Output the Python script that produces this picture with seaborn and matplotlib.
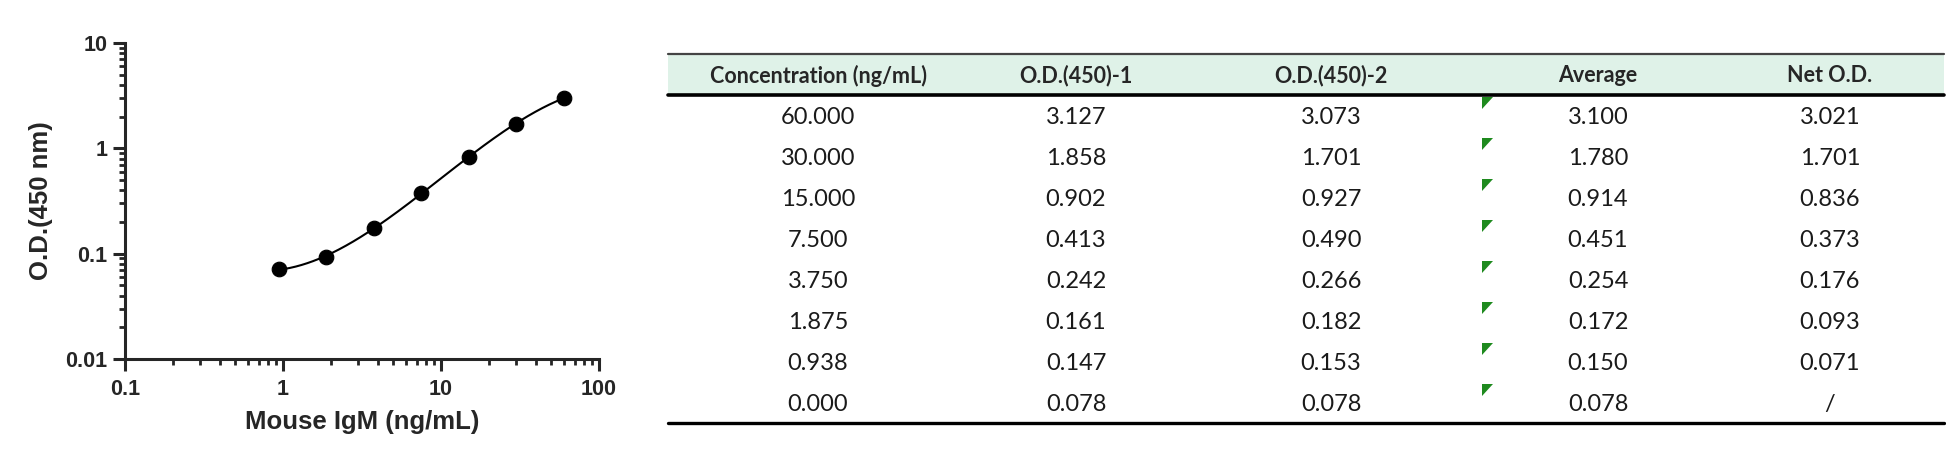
import numpy as np
import pandas as pd
import seaborn as sns
import matplotlib
matplotlib.use("Agg")
import matplotlib.pyplot as plt
from matplotlib.ticker import LogLocator, FuncFormatter, NullFormatter

# standard curve data (Net O.D. vs concentration)
conc = [60.0, 30.0, 15.0, 7.5, 3.75, 1.875, 0.938, 0.0]
od1 = [3.127, 1.858, 0.902, 0.413, 0.242, 0.161, 0.147, 0.078]
od2 = [3.073, 1.701, 0.927, 0.490, 0.266, 0.182, 0.153, 0.078]
avg = [3.100, 1.780, 0.914, 0.451, 0.254, 0.172, 0.150, 0.078]
net_od = [3.021, 1.701, 0.836, 0.373, 0.176, 0.093, 0.071, None]

headers = ["Concentration (ng/mL)", "O.D.(450)-1", "O.D.(450)-2", "Average", "Net O.D."]
x_label = "Mouse IgM (ng/mL)"
y_label = "O.D.(450 nm)"

sns.set_style("ticks")
plt.rcParams['font.family'] = ['Liberation Sans', 'DejaVu Sans']

W, H = 1946, 467
fig = plt.figure(figsize=(W / 100, H / 100), dpi=100)

# ---- curve plot ----
ax = fig.add_axes([125 / W, 1 - 359 / H, (599 - 125) / W, (359 - 43) / H])

df = pd.DataFrame({"conc": conc[:-1], "od": net_od[:-1]})

# smooth fit in log-log space
lx = np.log10(df["conc"].values)
ly = np.log10(df["od"].values.astype(float))
coef = np.polyfit(lx, ly, 3)
xs = np.linspace(lx.min(), lx.max(), 200)
fit = pd.DataFrame({"conc": 10 ** xs, "od": 10 ** np.polyval(coef, xs)})

sns.lineplot(data=fit, x="conc", y="od", ax=ax, color="black", lw=1.5, estimator=None)
sns.scatterplot(data=df, x="conc", y="od", ax=ax, color="black", s=110, edgecolor="black", zorder=3)

ax.set_xscale("log")
ax.set_yscale("log")
ax.set_xlim(0.1, 100)
ax.set_ylim(0.01, 10)
sns.despine(ax=ax)
for s in ["left", "bottom"]:
    ax.spines[s].set_linewidth(2.2)

fmt = FuncFormatter(lambda v, p: "%g" % v)
for a in (ax.xaxis, ax.yaxis):
    a.set_major_locator(LogLocator(base=10))
    a.set_minor_locator(LogLocator(base=10, subs=np.arange(2, 10)))
    a.set_major_formatter(fmt)
    a.set_minor_formatter(NullFormatter())
ax.tick_params(which="major", length=8.5, width=2.2, labelsize=15.5, pad=4)
ax.tick_params(which="minor", length=4.5, width=2.0)
for lab in ax.get_xticklabels() + ax.get_yticklabels():
    lab.set_fontweight("bold")
ax.tick_params(axis="x", which="major", pad=6)

ax.set_xlabel(x_label, fontsize=18.5, fontweight="bold", labelpad=7)
ax.set_ylabel(y_label, fontsize=18.5, fontweight="bold", labelpad=9)

# ---- table ----
tx = fig.add_axes([0, 0, 1, 1])
tx.set_xlim(0, W)
tx.set_ylim(H, 0)
tx.axis("off")

left, right = 668, 1944
top, head_bot, row_h = 54, 95, 41
col_x = [818, 1076, 1331, 1598, 1830]

tx.fill_between([left, right], top, head_bot, color="#dff2e8", lw=0)
tx.plot([left, right], [top, top], color="#444444", lw=1.6)
tx.plot([left, right], [head_bot, head_bot], color="black", lw=2.6)
n_rows = len(conc)
bottom = head_bot + n_rows * row_h
tx.plot([left, right], [bottom, bottom], color="black", lw=2.4)

for cx, h in zip(col_x, headers):
    tx.text(cx, (top + head_bot) / 2 + 1, h, ha="center", va="center",
            fontsize=15.5, fontweight="bold", family=["Lato", "DejaVu Sans"])

for i in range(n_rows):
    cy = head_bot + (i + 0.5) * row_h + 2
    vals = ["%.3f" % conc[i], "%.3f" % od1[i], "%.3f" % od2[i], "%.3f" % avg[i],
            "/" if net_od[i] is None else "%.3f" % net_od[i]]
    for cx, v in zip(col_x, vals):
        tx.text(cx, cy, v, ha="center", va="center", fontsize=17,
                color="#1a1a1a", family=["Lato", "DejaVu Sans"])
    # excel-style green corner flags
    ty = head_bot + i * row_h + 2
    tx.fill([1482, 1493, 1482], [ty, ty, ty + 12], color="#1e8a1e", lw=0)

fig.savefig("out.png", dpi=100)
